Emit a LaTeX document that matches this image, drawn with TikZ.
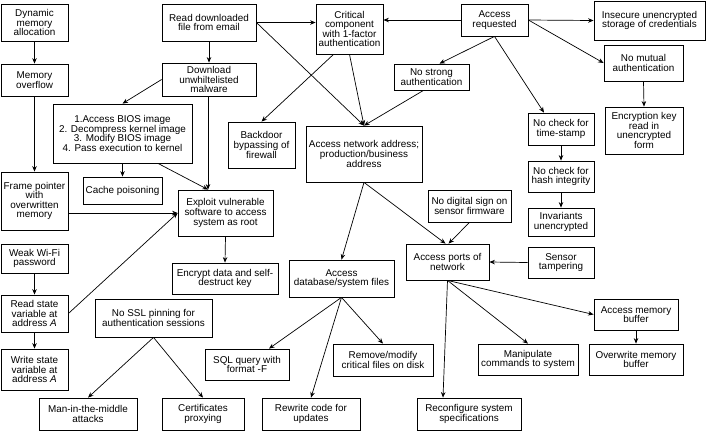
\documentclass[tikz,border=0pt]{standalone}
\usepackage{fontspec}
\setmainfont{Liberation Sans}
\usetikzlibrary{arrows.meta}
\tikzset{
  box/.style={draw, line width=0.8pt, align=center, inner sep=0pt, font=\fontsize{9.9}{9.6}\selectfont},
  arr/.style={-{Stealth[length=5.5pt,width=4.5pt]}, line width=0.7pt}
}
\newcommand\mybox[6]{\node[box, minimum width=#4pt, minimum height=#5pt] (#1) at (#2,#3) {#6};}
\begin{document}
\begin{tikzpicture}[x=1pt,y=-1pt]
\useasboundingbox (0,0) rectangle (706,432);
% left column
\mybox{dyn}{34.5}{22.5}{67}{37}{Dynamic\\memory\\allocation}
\mybox{memov}{34.5}{80}{67}{32}{Memory\\overflow}
\mybox{frame}{34.5}{201}{67}{58}{Frame pointer\\with\\overwritten\\memory}
\mybox{wifi}{34.5}{258.5}{67}{29}{Weak Wi-Fi\\password}
\mybox{readst}{34.5}{313.5}{67}{37}{Read state\\variable at\\address \textit{A}}
\mybox{writest}{34.5}{369.5}{67}{41}{Write state\\variable at\\address \textit{A}}
% second column
\mybox{readdl}{209}{22.5}{94}{37}{Read downloaded\\file from email}
\mybox{download}{209}{79.5}{94}{33}{Download\\unwhiltelisted\\malware}
\mybox{bios}{122.5}{133.5}{139}{59}{1.Access BIOS image\\2. Decompress kernel image\\3. Modify BIOS image\\4. Pass execution to kernel}
\mybox{cache}{122.5}{190.5}{79}{27}{Cache poisoning}
\mybox{exploit}{225.5}{213}{95}{46}{Exploit vulnerable\\software to access\\system as root}
\mybox{encrypt}{225}{278.5}{106}{31}{Encrypt data and self-\\destruct key}
\mybox{ssl}{153.5}{318}{117}{38}{No SSL pinning for\\authentication sessions}
\mybox{mitm}{88}{414}{98}{32}{Man-in-the-middle\\attacks}
\mybox{cert}{203}{414}{82}{32}{Certificates\\proxying}
\mybox{sql}{247}{364.5}{84}{31}{SQL query with\\format -F}
% middle
\mybox{critical}{349.5}{29}{67}{50}{Critical\\component\\with 1-factor\\authentication}
\mybox{backdoor}{261.5}{145}{67}{46}{Backdoor\\bypassing of\\firewall}
\mybox{netaddr}{364}{154}{116}{56}{Access network address;\\production/business\\address}
\mybox{nostrong}{431.5}{77}{75}{26}{No strong\\authentication}
\mybox{db}{341.5}{278.5}{105}{37}{Access\\database/system files}
\mybox{remove}{383}{360}{100}{32}{Remove/modify\\critical files on disk}
\mybox{rewrite}{311}{414}{98}{32}{Rewrite code for\\updates}
% right
\mybox{accreq}{494.5}{20}{67}{32}{Access\\requested}
\mybox{insecure}{649.5}{20.5}{111}{39}{Insecure unencrypted\\storage of credentials}
\mybox{nomutual}{643.5}{63}{79}{36}{No mutual\\authentication}
\mybox{enckey}{644}{130.5}{78}{47}{Encryption key\\read in\\unencrypted\\form}
\mybox{timestamp}{561}{129}{66}{32}{No check for\\time-stamp}
\mybox{hash}{561}{176.5}{66}{31}{No check for\\hash integrity}
\mybox{invariants}{561}{222}{66}{28}{Invariants\\unencrypted}
\mybox{sensor}{561}{262.5}{66}{31}{Sensor\\tampering}
\mybox{digsign}{469.5}{206}{83}{32}{No digital sign on\\sensor firmware}
\mybox{ports}{447.5}{262}{83}{36}{Access ports of\\network}
\mybox{reconf}{469}{414}{104}{32}{Reconfigure system\\specifications}
\mybox{manip}{528}{359.5}{100}{31}{Manipulate\\commands to system}
\mybox{accmem}{636}{314.5}{84}{31}{Access memory\\buffer}
\mybox{overwrite}{636}{359.5}{94}{31}{Overwrite memory\\buffer}
% connectors
\draw[arr] (dyn.south) -- (memov.north);
\draw[arr] (memov.south) -- (frame.north);
\draw[arr] (wifi.south) -- (readst.north);
\draw[arr] (readst.south) -- (writest.north);
\draw[arr] (frame.east |- exploit.west) -- (exploit.west);
\draw[arr] (readst.east) -- (exploit.west);
\draw[arr] (readdl.south) -- (download.north);
\draw[arr] (download.west) -- (bios.north);
\draw[arr] ([xshift=-1pt]download.south) -- ([xshift=-1pt]download.south |- exploit.north);
\draw[arr] (bios.south) -- (cache.north);
\draw[arr] ([xshift=35.5pt]bios.south) -- ([xshift=-1pt]download.south |- exploit.north);
\draw[arr] (exploit.south) -- (encrypt.north);
\draw[arr] (ssl.south) -- (mitm.north);
\draw[arr] (ssl.south) -- (cert.north);
\draw[arr] (readdl.east) -- (readdl.east -| critical.west);
\draw[arr] (readdl.east) -- (netaddr.north);
\draw[arr] (accreq.west) -- (accreq.west -| critical.east);
\draw[arr] ([xshift=-16pt]critical.south) -- (backdoor.north);
\draw[arr] (critical.south) -- (netaddr.north);
\draw[arr] ([xshift=-8pt]nostrong.south) -- (netaddr.north);
\draw[arr] (accreq.south) -- ([xshift=8pt]nostrong.north);
\draw[arr] (accreq.south) -- ([xshift=-17pt]timestamp.north);
\draw[arr] (accreq.east) -- (insecure.west);
\draw[arr] (accreq.east) -- (nomutual.west);
\draw[arr] (nomutual.south) -- (enckey.north);
\draw[arr] (timestamp.south) -- (hash.north);
\draw[arr] (hash.south) -- (invariants.north);
\draw[arr] (sensor.west) -- (ports.east);
\draw[arr] (digsign.south) -- ([xshift=1pt]ports.north);
\draw[arr] (netaddr.south) -- ([xshift=-2pt]ports.north);
\draw[arr] (netaddr.south) -- (db.north);
\draw[arr] (db.south) -- ([xshift=22pt]sql.north);
\draw[arr] (db.south) -- (rewrite.north);
\draw[arr] (db.south) -- (remove.north);
\draw[arr] (ports.south) -- ([xshift=-26pt]reconf.north);
\draw[arr] (ports.south) -- (manip.north);
\draw[arr] (ports.south) -- (accmem.west);
\draw[arr] (accmem.south) -- (overwrite.north);
\end{tikzpicture}
\end{document}
